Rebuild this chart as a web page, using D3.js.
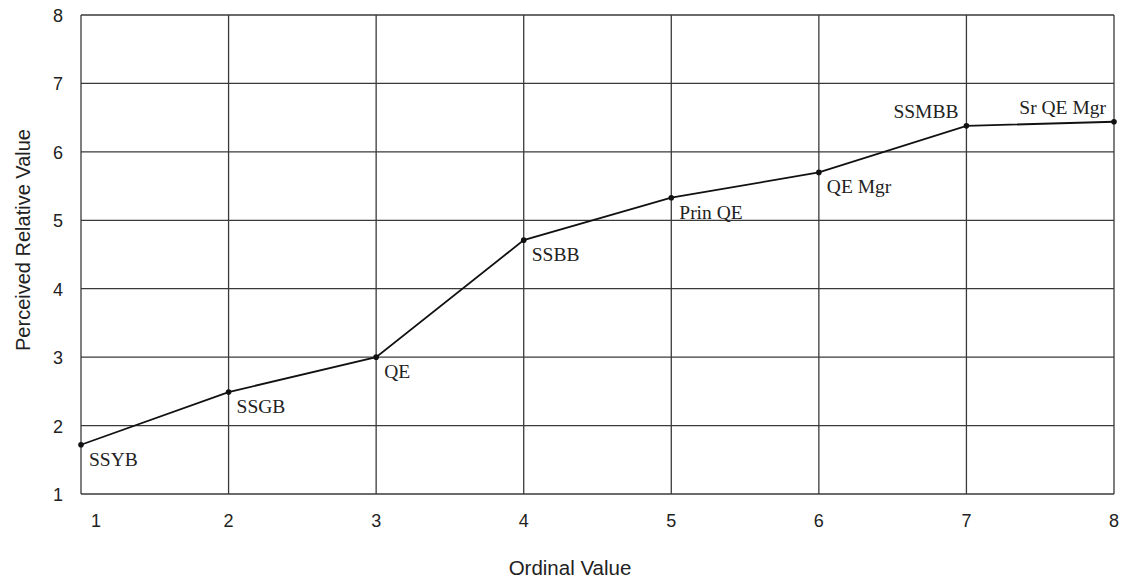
<!DOCTYPE html>
<html>
<head>
<meta charset="utf-8">
<script src="https://cdn.jsdelivr.net/npm/d3@7"></script>
<style>
  body { margin: 0; background: #fff; }
</style>
</head>
<body>
<div id="chart"></div>
<script>
// data
const ordinals = [1, 2, 3, 4, 5, 6, 7, 8];
const perceived = [1.72, 2.49, 3.0, 4.71, 5.33, 5.70, 6.38, 6.44];
const roles = ["SSYB", "SSGB", "QE", "SSBB", "Prin QE", "QE Mgr", "SSMBB", "Sr QE Mgr"];
const xTicks = [1, 2, 3, 4, 5, 6, 7, 8];
const yTicks = [1, 2, 3, 4, 5, 6, 7, 8];

const width = 1132;
const height = 582;
const margin = { top: 15, right: 18, bottom: 88, left: 81 };
const chartWidth = width - margin.left - margin.right;
const chartHeight = height - margin.top - margin.bottom;

const sans = "'Liberation Sans', Arial, sans-serif";

const svg = d3.select("#chart").append("svg")
    .attr("width", width)
    .attr("height", height);

const g = svg.append("g")
    .attr("transform", `translate(${margin.left}, ${margin.top})`);

const xScale = d3.scaleLinear().domain([1, 8]).range([0, chartWidth]);
const yScale = d3.scaleLinear().domain([1, 8]).range([chartHeight, 0]);

// grid
g.selectAll(".vgrid")
    .data(xTicks)
    .enter().append("line")
    .attr("x1", d => xScale(d)).attr("x2", d => xScale(d))
    .attr("y1", 0).attr("y2", chartHeight)
    .attr("stroke", "#3a3a3a")
    .attr("stroke-width", 1.3);

g.selectAll(".hgrid")
    .data(yTicks)
    .enter().append("line")
    .attr("y1", d => yScale(d)).attr("y2", d => yScale(d))
    .attr("x1", 0).attr("x2", chartWidth)
    .attr("stroke", "#3a3a3a")
    .attr("stroke-width", 1.3);

// tick labels (x axis, first one nudged right like the original)
g.selectAll(".xlab")
    .data(xTicks)
    .enter().append("text")
    .attr("x", d => xScale(d) + (d === 1 ? 15 : 0))
    .attr("y", chartHeight + 33)
    .attr("text-anchor", "middle")
    .style("font-family", sans)
    .style("font-size", "18px")
    .style("fill", "#222")
    .text(d => d);

g.selectAll(".ylab")
    .data(yTicks)
    .enter().append("text")
    .attr("x", -18)
    .attr("y", d => yScale(d) + 7)
    .attr("text-anchor", "end")
    .style("font-family", sans)
    .style("font-size", "18px")
    .style("fill", "#222")
    .text(d => d);

// axis titles
svg.append("text")
    .attr("x", 570)
    .attr("y", 575)
    .attr("text-anchor", "middle")
    .style("font-family", sans)
    .style("font-size", "20.5px")
    .style("fill", "#222")
    .text("Ordinal Value");

svg.append("text")
    .attr("transform", "translate(30, 240) rotate(-90)")
    .attr("text-anchor", "middle")
    .style("font-family", sans)
    .style("font-size", "20px")
    .style("fill", "#222")
    .text("Perceived Relative Value");

// the line
const points = ordinals.map((o, i) => ({ x: o, y: perceived[i], label: roles[i] }));

g.append("path")
    .datum(points)
    .attr("fill", "none")
    .attr("stroke", "#111")
    .attr("stroke-width", 1.8)
    .attr("d", d3.line().x(d => xScale(d.x)).y(d => yScale(d.y)));

g.selectAll(".dot")
    .data(points)
    .enter().append("circle")
    .attr("cx", d => xScale(d.x))
    .attr("cy", d => yScale(d.y))
    .attr("r", 2.8)
    .attr("fill", "#111");

// labels: most sit below-right, the last two sit above-left
g.selectAll(".pt-label")
    .data(points)
    .enter().append("text")
    .attr("x", d => xScale(d.x) + (d.x >= 7 ? -8 : 8))
    .attr("y", d => yScale(d.y) + (d.x >= 7 ? -8 : 21))
    .attr("text-anchor", d => d.x >= 7 ? "end" : "start")
    .style("font-family", "'Liberation Serif', 'DejaVu Serif', serif")
    .style("font-size", "19.5px")
    .style("fill", "#222")
    .text(d => d.label);
</script>
</body>
</html>
